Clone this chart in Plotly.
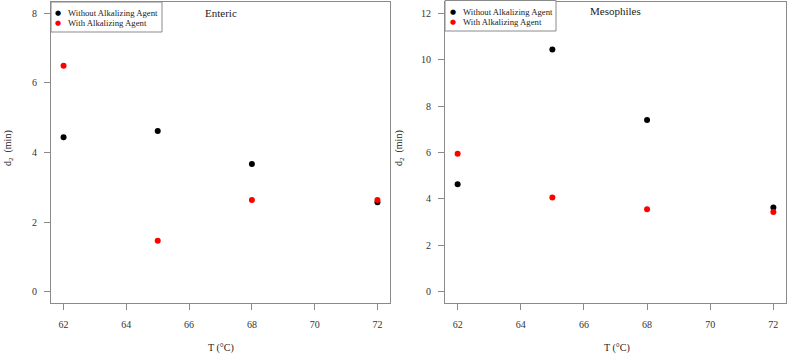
import plotly.graph_objects as go

temps = [62, 65, 68, 72]
enteric_without = [4.44, 4.62, 3.67, 2.57]
enteric_with = [6.49, 1.47, 2.64, 2.64]
meso_without = [4.63, 10.43, 7.40, 3.63]
meso_with = [5.95, 4.06, 3.56, 3.44]

x_ticks = [62, 64, 66, 68, 70, 72]
y1_ticks = [0, 2, 4, 6, 8]
y2_ticks = [0, 2, 4, 6, 8, 10, 12]

series_names = ["Without Alkalizing Agent", "With Alkalizing Agent"]
series_colors = ["#000000", "#ff0000"]

W, H = 787, 355
ml, mr, mt, mb = 51, 1, 2, 52
pw = W - ml - mr
ph = H - mt - mb

def px(x):
    return (x - ml) / pw

def py(y):
    return 1 - (y - mt) / ph

FONT = "Liberation Serif, Times New Roman, serif"
TXT = "#222"

fig = go.Figure()
for vals, name, col, xa, ya in [
    (enteric_without, series_names[0], series_colors[0], "x", "y"),
    (enteric_with, series_names[1], series_colors[1], "x", "y"),
    (meso_without, series_names[0], series_colors[0], "x2", "y2"),
    (meso_with, series_names[1], series_colors[1], "x2", "y2"),
]:
    fig.add_trace(go.Scatter(x=temps, y=vals, mode="markers", name=name,
                             marker=dict(color=col, size=6), xaxis=xa, yaxis=ya,
                             showlegend=False))

axis_common = dict(showline=True, mirror=True, linecolor="#8a8a8a", linewidth=1, showgrid=False,
                   zeroline=False, ticks="outside", ticklen=6, tickcolor="#8a8a8a",
                   tickfont=dict(family=FONT, size=10, color="#333"))

def ann(text, x, y, size, **kw):
    d = dict(text=text, x=px(x), y=py(y), xref="paper", yref="paper", showarrow=False,
             xanchor="center", yanchor="middle", font=dict(family=FONT, size=size, color=TXT))
    d.update(kw)
    return d

annotations = [
    ann("Enteric", 221, 13, 11),
    ann("Mesophiles", 615, 11, 11),
    ann("T (°C)", 221, 348, 10),
    ann("T (°C)", 617, 348, 10),
    ann("d<sub>2</sub>  (min)", 8, 148, 10, textangle=-90),
    ann("d<sub>2</sub>  (min)", 399, 148, 10, textangle=-90),
]

shapes = []
for bl, br, bt, bb, dx, tx, rows in [
    (51, 162, 2, 32, 58, 66, [13, 23]),
    (445, 556, 0.5, 31, 453, 461, [11.5, 21.5]),
]:
    shapes.append(dict(type="rect", xref="paper", yref="paper",
                       x0=px(bl), x1=px(br), y0=py(bb), y1=py(bt),
                       line=dict(color="#8a8a8a", width=1), fillcolor="white", layer="above"))
    for name, col, ry in zip(series_names, series_colors, rows):
        annotations.append(dict(text="●", x=px(dx), y=py(ry), xref="paper", yref="paper",
                                showarrow=False, xanchor="center", yanchor="middle",
                                font=dict(family="DejaVu Sans", size=7, color=col)))
        annotations.append(dict(text=name, x=px(tx), y=py(ry), xref="paper", yref="paper",
                                showarrow=False, xanchor="left", yanchor="middle",
                                font=dict(family=FONT, size=8.7, color=TXT)))

fig.update_layout(
    width=W, height=H,
    margin=dict(l=ml, r=mr, t=mt, b=mb),
    paper_bgcolor="white", plot_bgcolor="white",
    showlegend=False,
    xaxis=dict(domain=[0, px(390)], range=[61.6, 72.4], tickvals=x_ticks, anchor="y",
               ticklabelstandoff=6, **axis_common),
    yaxis=dict(domain=[0, 1], range=[-0.32, 8.32], tickvals=y1_ticks, anchor="x",
               ticklabelstandoff=5, **axis_common),
    xaxis2=dict(domain=[px(445), 1], range=[61.6, 72.4], tickvals=x_ticks, anchor="y2",
                ticklabelstandoff=6, **axis_common),
    yaxis2=dict(domain=[0, 1], range=[-0.48, 12.48], tickvals=y2_ticks, anchor="x2",
                ticklabelstandoff=5, **axis_common),
    annotations=annotations,
    shapes=shapes,
)

fig.write_html("out.html", config={"displayModeBar": False},
               post_script="document.body.style.margin='0';")
